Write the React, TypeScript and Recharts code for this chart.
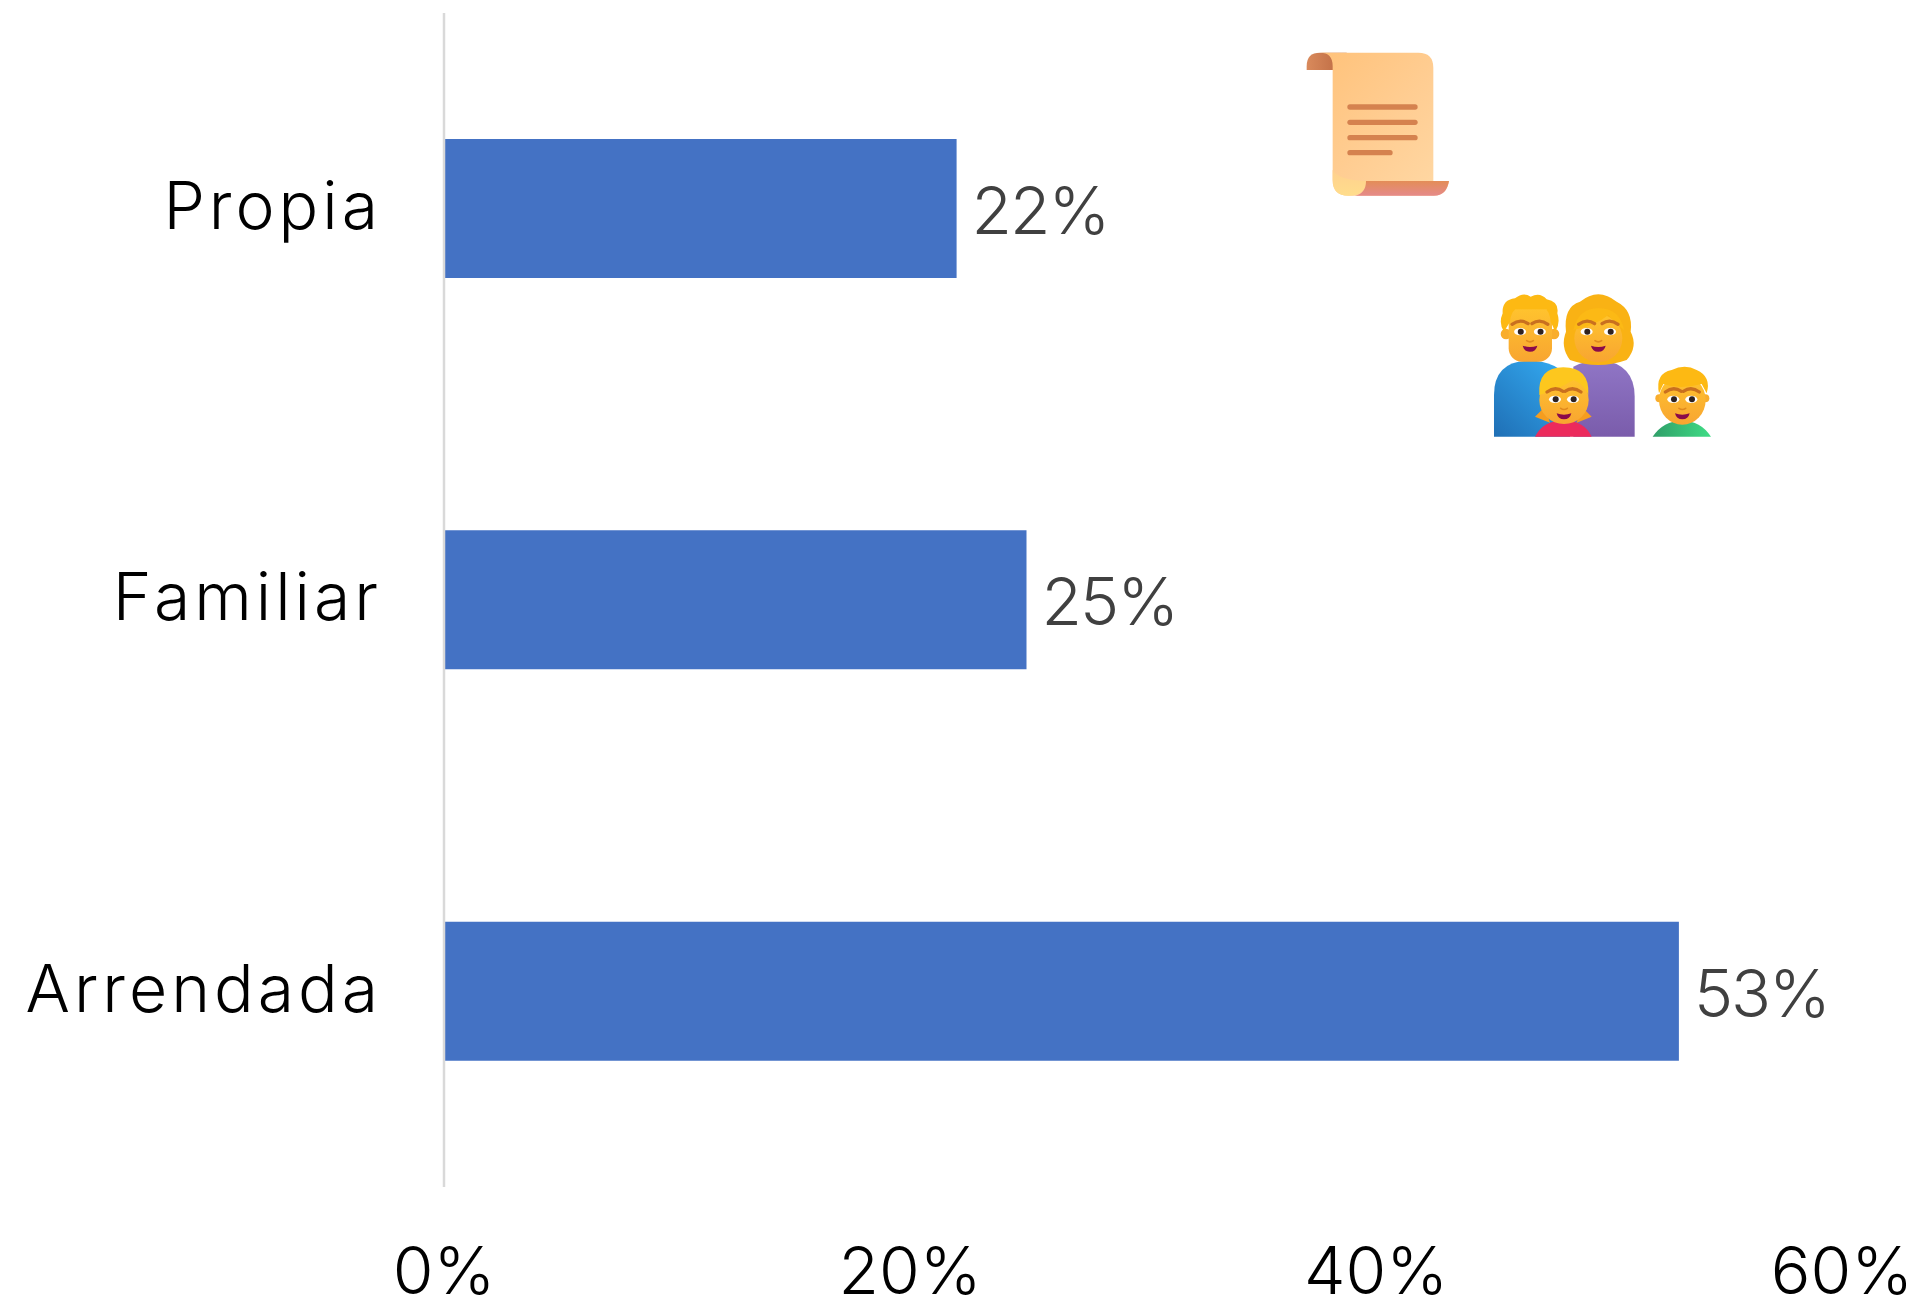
// Tenencia de vivienda: barras horizontales con dos emojis decorativos
import { BarChart, Bar, XAxis, YAxis, LabelList } from 'recharts'

const categories = ['Propia', 'Familiar', 'Arrendada']
const values = [22, 25, 53]
const xTicks = [0, 20, 40, 60]

const rows = categories.map((name, i) => ({ name, value: values[i] }))

const FONT = 'Inter, "Open Sans", sans-serif'

function Face({ cx, cy, w, mouth = '#8a0a4a' }: { cx: number; cy: number; w: number; mouth?: string }) {
  const dx = w * 0.27
  return (
    <g>
      <path d={`M${cx - dx - 24} ${cy - 22} q24 -18 48 -2`} stroke="#c9701f" strokeWidth="10" fill="none" strokeLinecap="round" />
      <path d={`M${cx + dx - 24} ${cy - 24} q24 -16 48 2`} stroke="#c9701f" strokeWidth="10" fill="none" strokeLinecap="round" />
      <ellipse cx={cx - dx} cy={cy} rx="18" ry="11" fill="#fff" />
      <ellipse cx={cx + dx} cy={cy} rx="18" ry="11" fill="#fff" />
      <circle cx={cx - dx + 2} cy={cy} r="9" fill="#2e2220" />
      <circle cx={cx + dx + 2} cy={cy} r="9" fill="#2e2220" />
      <path d={`M${cx - 22} ${cy + 42} q22 8 44 0 q-4 18 -22 18 q-18 0 -22 -18 z`} fill={mouth} />
      <path d={`M${cx - 10} ${cy + 27} q10 7 20 0`} stroke="#e08a1e" strokeWidth="5" fill="none" strokeLinecap="round" />
    </g>
  )
}

function Emojis() {
  return (
    <svg
      width={1918}
      height={1301}
      style={{ position: 'absolute', left: 0, top: 0, pointerEvents: 'none' }}
    >
      <defs>
        <linearGradient id="paper" x1="0" y1="0" x2="1" y2="1">
          <stop offset="0" stopColor="#ffc27a" />
          <stop offset="0.5" stopColor="#ffcd92" />
          <stop offset="1" stopColor="#ffd9a6" />
        </linearGradient>
        <linearGradient id="fold" x1="0" y1="0" x2="0" y2="1">
          <stop offset="0" stopColor="#ffd08e" />
          <stop offset="1" stopColor="#ffdd8c" />
        </linearGradient>
        <linearGradient id="curlTop" x1="0" y1="0" x2="1" y2="0">
          <stop offset="0" stopColor="#d98a5c" />
          <stop offset="1" stopColor="#b9663f" />
        </linearGradient>
        <linearGradient id="curlBottom" x1="0" y1="0" x2="0" y2="1">
          <stop offset="0" stopColor="#e38d57" />
          <stop offset="1" stopColor="#e58a8a" />
        </linearGradient>
        <linearGradient id="blue" x1="0" y1="1" x2="1" y2="0">
          <stop offset="0" stopColor="#1f6fb5" />
          <stop offset="1" stopColor="#35aef5" />
        </linearGradient>
        <linearGradient id="purple" x1="0" y1="0" x2="0" y2="1">
          <stop offset="0" stopColor="#9076c6" />
          <stop offset="1" stopColor="#7a5cab" />
        </linearGradient>
        <linearGradient id="green" x1="0" y1="0" x2="1" y2="0">
          <stop offset="0" stopColor="#2f9e68" />
          <stop offset="1" stopColor="#3fdc85" />
        </linearGradient>
        <linearGradient id="skin" x1="0" y1="0" x2="0" y2="1">
          <stop offset="0" stopColor="#ffc42e" />
          <stop offset="1" stopColor="#f8a531" />
        </linearGradient>
      </defs>

      {/* coordenadas del recorte ampliado x3 */}
      <g transform="translate(1280 30) scale(0.33333)">
        {/* pergamino */}
        <path d="M80 120 V108 Q80 68 120 68 H200 V120 Z" fill="url(#curlTop)" />
        <path d="M120 68 H415 Q460 68 460 113 V453 H507 Q500 497 462 497 H205 Q158 497 158 450 V108 Q158 68 120 68 Z" fill="url(#paper)" />
        <path d="M158 420 Q175 450 258 453 Q258 497 205 497 Q158 497 158 450 Z" fill="url(#fold)" />
        <path d="M258 453 H507 Q500 497 462 497 H225 Q258 490 258 453 Z" fill="url(#curlBottom)" />
        <rect x="202" y="223" width="211" height="16" rx="8" fill="#d5824f" />
        <rect x="202" y="269" width="211" height="16" rx="8" fill="#d5824f" />
        <rect x="202" y="315" width="211" height="16" rx="8" fill="#d5824f" />
        <rect x="202" y="360" width="136" height="16" rx="8" fill="#d5824f" />

        {/* padre */}
        <path d="M642 1220 V1095 Q642 992 750 992 Q830 992 870 1050 V1220 Z" fill="url(#blue)" />
        <circle cx="678" cy="912" r="16" fill="#f9ad2c" />
        <circle cx="822" cy="912" r="16" fill="#f9ad2c" />
        <rect x="686" y="830" width="130" height="165" rx="40" fill="url(#skin)" />
        <path d="M672 905 Q655 880 668 850 Q665 810 705 805 Q730 785 752 800 Q780 785 800 808 Q838 815 832 850 Q842 880 826 905 L812 875 Q810 850 798 838 H706 Q692 850 690 875 Z" fill="#fdb913" />
        <Face cx={750} cy={905} w={110} />

        {/* madre */}
        <path d="M880 1220 V1010 Q920 990 960 990 Q1064 1000 1064 1100 V1220 Z" fill="url(#purple)" />
        <path d="M870 990 Q840 950 858 905 Q850 830 900 815 Q955 770 1010 815 Q1060 840 1052 905 Q1075 950 1040 990 Q955 1020 870 990 Z" fill="#f9b214" />
        <ellipse cx="955" cy="925" rx="72" ry="72" fill="url(#skin)" />
        <path d="M880 900 Q895 835 955 835 Q1020 835 1032 900 Q1000 875 985 855 Q950 885 880 900 Z" fill="#fcb915" />
        <Face cx={955} cy={905} w={130} />

        {/* nina */}
        <path d="M765 1220 Q790 1170 850 1172 Q912 1170 935 1220 Z" fill="#ec2a5c" />
        <path d="M765 1160 L795 1130 L810 1178 Z" fill="#f59d1f" />
        <path d="M935 1160 L905 1130 L890 1178 Z" fill="#f59d1f" />
        <ellipse cx="852" cy="1110" rx="74" ry="72" fill="url(#skin)" />
        <path d="M778 1095 Q772 1012 850 1012 Q930 1012 925 1095 Q910 1060 880 1050 Q830 1080 778 1095 Z" fill="#fdc71e" />
        <Face cx={852} cy={1108} w={100} />

        {/* nino */}
        <path d="M1118 1220 Q1150 1172 1206 1172 Q1262 1172 1293 1220 Z" fill="url(#green)" />
        <circle cx="1138" cy="1105" r="12" fill="#f9ad2c" />
        <circle cx="1276" cy="1105" r="12" fill="#f9ad2c" />
        <ellipse cx="1207" cy="1110" rx="70" ry="74" fill="url(#skin)" />
        <path d="M1137 1090 Q1125 1030 1175 1020 Q1215 1000 1250 1020 Q1295 1040 1280 1090 L1265 1062 Q1200 1080 1150 1062 Z" fill="#fdb913" />
        <Face cx={1207} cy={1108} w={100} />
      </g>
    </svg>
  )
}

export default function App() {
  return (
    <div style={{ position: 'absolute', left: 0, top: 0, width: 1918, height: 1301, background: '#fff', overflow: 'hidden' }}>
      <BarChart
        width={1918}
        height={1301}
        data={rows}
        layout="vertical"
        margin={{ top: 13, right: 76, bottom: 0, left: 0 }}
      >
        <XAxis
          type="number"
          domain={[0, 60]}
          ticks={xTicks}
          interval={0}
          height={114}
          axisLine={false}
          tickLine={false}
          tickMargin={54}
          tickFormatter={(v: number) => `${v}%`}
          tick={{ fill: '#000', fontSize: 66, fontFamily: FONT, fontWeight: 300 }}
        />
        <YAxis
          type="category"
          dataKey="name"
          width={444}
          axisLine={{ stroke: '#d9d9d9', strokeWidth: 2.5 }}
          tickLine={false}
          tickMargin={56}
          tick={{ fill: '#000', fontSize: 66, fontFamily: FONT, fontWeight: 300, letterSpacing: 4, dy: -3 }}
        />
        <Bar dataKey="value" fill="#4472c4" barSize={139} isAnimationActive={false}>
          <LabelList
            dataKey="value"
            position="right"
            offset={15}
            dy={2}
            formatter={(v: number) => `${v}%`}
            style={{ fill: '#404040', fontSize: 66, fontFamily: FONT, fontWeight: 300, letterSpacing: -2 }}
          />
        </Bar>
      </BarChart>
      <Emojis />
    </div>
  )
}
